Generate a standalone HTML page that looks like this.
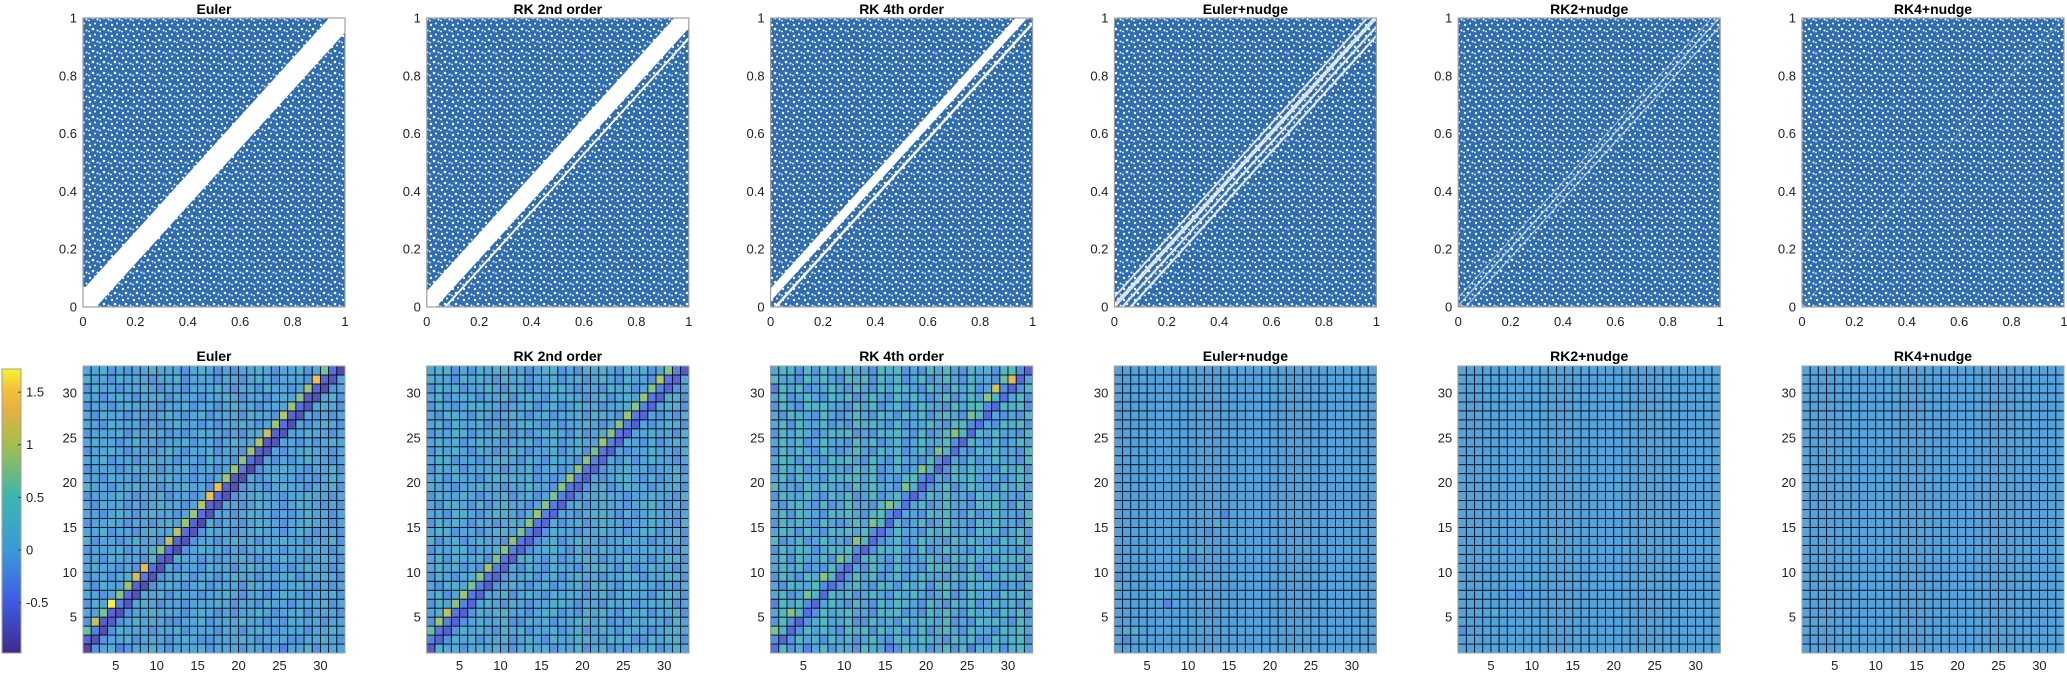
<!DOCTYPE html>
<html><head><meta charset="utf-8">
<style>
html,body{margin:0;padding:0;background:#fff;}
svg{display:block;font-family:"Liberation Sans",sans-serif;}
</style></head>
<body>
<svg id="fig" width="2067" height="676" viewBox="0 0 2067 676" xmlns="http://www.w3.org/2000/svg">
<defs>
<pattern id="speckle" patternUnits="userSpaceOnUse" width="11" height="11">
<rect width="11" height="11" fill="#2f6db5"/>
<circle cx="2" cy="3" r="1.2" fill="#fff"/>
<circle cx="7" cy="1.5" r="1.0" fill="#fff"/>
<circle cx="5" cy="7" r="1.3" fill="#fff"/>
<circle cx="9.5" cy="8.5" r="1.0" fill="#fff"/>
<circle cx="1" cy="9.5" r="0.9" fill="#fff"/>
</pattern>
</defs>
</svg>
<script>
// ---------- data ----------
const titles = ["Euler","RK 2nd order","RK 4th order","Euler+nudge","RK2+nudge","RK4+nudge"];
const scatterTicks = [0,0.2,0.4,0.6,0.8,1];
const scatterTickLabels = ["0","0.2","0.4","0.6","0.8","1"];
// white (empty) diagonal bands in the return maps: [lo, hi] of (y - x)
const bandsEuler = [[-0.05,0.06]];
const bandsRK2 = [[-0.035,0.055],[-0.075,-0.065]];
const bandsRK4 = [[0.02,0.065],[-0.025,-0.012]];
const bandsEulerNudge = [[-0.068,-0.056],[-0.036,-0.024],[-0.006,0.014],[0.03,0.04]];
const bandsRK2Nudge = [[-0.032,-0.025],[0.0,0.008],[0.03,0.035]];
const bandsRK4Nudge = [[0.0,0.004]];
const bandOpacity = [1,1,1,0.8,0.55,0.35];
const heatTicks = [5,10,15,20,25,30];
const cbTicks = [-0.5,0,0.5,1,1.5];
const cbTickLabels = ["-0.5","0","0.5","1","1.5"];
const cMin = -0.98, cMax = 1.72;
// diagonals: main (c,c), first upper (c,c+1), second upper (c,c+2)
const eulerDiag0 = [-0.95,-0.8,-0.85,-0.7,-0.8,-0.75,-0.8,-0.85,-0.8,-0.8,-0.75,-0.85,-0.8,-0.8,-0.9,-0.8,-0.8,-0.75,-0.8,-0.85,-0.9,-0.8,-0.75,-0.8,-0.8,-0.85,-0.8,-0.75,-0.8,-0.85,-0.75,-0.9];
const eulerDiag1 = [-0.6,-0.3,-0.7,-0.6,-0.3,-0.5,-0.6,-0.4,-0.5,-0.6,-0.5,-0.6,-0.5,-0.6,-0.5,-0.6,-0.5,-0.6,-0.7,-0.4,-0.5,-0.6,-0.7,-0.6,-0.5,-0.6,-0.5,-0.7,-0.6,-0.6,-0.5];
const eulerDiag2 = [0.6,1.1,0.7,1.7,0.8,0.9,1.2,1.3,0.3,0.8,1.1,1.1,0.9,0.9,1.0,1.4,1.4,0.9,0.9,0.8,0.9,1.0,1.2,0.9,1.0,0.9,0.8,0.9,1.4,0.7];
const rk2Diag0 = [-0.7,-0.6,-0.65,-0.6,-0.65,-0.6,-0.6,-0.65,-0.6,-0.6,-0.65,-0.6,-0.6,-0.65,-0.6,-0.6,-0.65,-0.6,-0.6,-0.65,-0.6,-0.6,-0.65,-0.6,-0.6,-0.65,-0.6,-0.6,-0.65,-0.6,-0.6,-0.7];
const rk2Diag1 = [-0.3,-0.4,-0.3,-0.4,-0.3,-0.4,-0.3,-0.4,-0.3,-0.4,-0.3,-0.4,-0.3,-0.4,-0.3,-0.4,-0.3,-0.4,-0.3,-0.4,-0.3,-0.4,-0.3,-0.4,-0.3,-0.4,-0.3,-0.4,-0.3,-0.4,-0.3];
const rk2Diag2 = [0.6,0.9,1.1,0.8,0.9,0.7,0.8,0.9,0.7,0.8,0.8,0.7,0.8,0.9,0.8,0.7,0.8,0.9,0.8,0.8,0.7,0.9,0.8,0.8,0.9,0.8,0.9,0.8,1.0,0.8];
const rk4Diag0 = [-0.5,-0.6,-0.55,-0.6,-0.5,-0.6,-0.55,-0.5,-0.6,-0.55,-0.5,-0.6,-0.55,-0.5,-0.6,-0.55,-0.5,-0.6,-0.55,-0.5,-0.6,-0.55,-0.5,-0.6,-0.55,-0.5,-0.6,-0.55,-0.5,-0.6,-0.55,-0.6];
const rk4Diag1 = [-0.2,0.3,-0.2,0.3,-0.2,0.3,-0.2,0.3,-0.2,0.3,-0.2,0.3,-0.2,0.3,-0.2,0.3,-0.2,0.3,-0.2,0.3,-0.2,0.3,-0.2,0.3,-0.2,0.3,-0.2,0.3,-0.2,1.3,-0.2];
const rk4Diag2 = [0.7,0.5,0.8,0.4,0.7,0.5,0.8,0.4,0.7,0.5,0.8,0.4,0.7,0.5,0.8,0.4,0.7,0.5,0.8,0.4,0.7,0.5,0.8,0.4,0.7,0.5,0.8,1.2,0.6,0.5];
// background cell levels, bottom row first; digit d -> value (d-4)*0.17
const eulerBg = [
"43452344543444534443443424453444","24344534443454334445434443344543","54435444344534443443454344434454","34443454443344534445443435444344",
"44534344544434543434454344534443","35443445434434445434435443444534","44345434453444344543443454434453","43544344345434534443544344543434",
"34434544434453443454434445344543","45443434544344354434544343454434","44354443434544343445434454434543","34445344543434544343454434454434",
"53443454434453443454434454434453","44534434544344354434454434543443","34454344345434453443454434454434","44345434544344354434544343454434",
"43544343454434453443454434544343","34445434453443445434454434454434","54434454434454434453443454434453","44354434545443434454434544343454",
"34443454434453443454434454434453","44534434544344354434544343454434","34454344345434453443454434454434","45443454434453443454434544343454",
"34445344543434544343454434454434","44354443434544343445434454434543","43544344345434534443544344543434","34434544434453443454434445344543",
"44345434453444344543443454434453","35443445434434445434435443444534","54435444344534443443454344434454","44534344544434543434454344534443"];
const rk2Bg = [
"45453454543454534453453435453454","35354534453454354455435453354553","54435454354534453453454354434554","35453454453354534455453435454354",
"45534354554434553435454354534453","35453445435434455434435453454534","45345434453454354543453454434553","43554354345434534453554354543435",
"35434554434453453454434455344553","45453434554354354434554353454434","45354453434554353445434454434553","34455344553434554353454434454435",
"53453454434453453454434454434453","45534434554354354434454434553453","35454354345434453453454434454435","44355434554354354434554353454434",
"43554353454434453453454434554353","35445434453453445434454434454435","54434454434454434453453454434453","45354434555453434454434554353454",
"35453454434453453454434454434453","45534434554354354434554353454434","35454354345434453453454434454435","45453454434453453454434554353454",
"34455344553434554353454434454435","45354453434554353445434454434553","43554354345434534453554354543435","35434554434453453454434455344553",
"45345434453454354543453454434553","35453445435434455434435453454534","54435454354534453453454354434554","45534354554434553435454354534453"];
const rk4Bg = [
"46352463543654236453463625463564","26364536453464365465436463364563","64436464365636463463564364436564","36463564463364536465463436564364",
"46536364564436563436464364536463","26463446436436465436436463464536","46346436463464364643463464436463","43654364346436536463564364643436",
"36436564436463463464436465346563","46463436564364364436564363464436","46364463436564363446436464436563","36465346563436564363464436464436",
"63463464436463463464436464436463","46536436564364364436464436563463","36464364346436463463464436464436","46365436564364364436564363464436",
"43564363464436463463464436564363","36446436463463446436464436464436","64436464436464436463463464436463","46364436566463436464436564363464",
"36463464436463463464436464436463","46536436564364364436564363464436","36464364346436463463464436464436","46463464436463463464436564363464",
"36465346563436564363464436464436","46364463436564363446436464436563","43654364346436536463564364643436","36436564436463463464436465346563",
"46346436463464364643463464436463","26463446436436465436436463464536","64436464365636463463564364436564","46536364564436563436464364536463"];
// nudge runs: near-uniform field with a few deviating cells [col,row,value]
const nudgeBase = [-0.05,-0.03,-0.04];
const nudgeEuler = [[2,2,-0.25],[3,3,0.15],[2,3,0.1],[7,6,-0.3],[6,7,0.15],[1,8,0.2],[9,9,0.15],[1,9,-0.2],[10,11,-0.25],[9,12,0.2],[11,12,0.15],[12,14,-0.2],[13,15,0.15],[14,16,-0.3]];
const nudgeRK2 = [[1,3,-0.2],[2,2,0.1],[5,5,0.1],[8,7,-0.2],[12,13,0.1],[20,19,0.08]];
const nudgeRK4 = [[1,2,-0.15],[3,4,0.08],[15,15,0.06],[25,24,0.05]];

// ---------- layout ----------
const svg = document.getElementById('fig');
const NS = 'http://www.w3.org/2000/svg';
const colX = k => 83 + k * 343.8;
const AW = 262, TOP_Y = 18, TOP_H = 289, BOT_Y = 366, BOT_H = 287;
function mk(tag, attrs, parent){ const e=document.createElementNS(NS,tag); for(const k in attrs) e.setAttribute(k,attrs[k]); (parent||svg).appendChild(e); return e; }
function txt(s, attrs, parent){ const e=mk('text',attrs,parent); e.textContent=s; return e; }

const stops=[[0,[62,42,140]],[0.18,[63,91,230]],[0.36,[58,154,216]],[0.55,[59,182,176]],[0.73,[163,189,77]],[0.86,[229,178,64]],[0.93,[246,192,58]],[1,[245,245,40]]];
function parula(v){ let t=(v-cMin)/(cMax-cMin); t=Math.max(0,Math.min(1,t));
  for(let i=1;i<stops.length;i++){ if(t<=stops[i][0]){ const a=stops[i-1],b=stops[i],f=(t-a[0])/(b[0]-a[0]);
    const c=a[1].map((x,j)=>Math.round(x+(b[1][j]-x)*f)); return `rgb(${c[0]},${c[1]},${c[2]})`; } }
  return 'rgb(245,245,40)'; }

// ---------- scatter plots ----------
const allBands=[bandsEuler,bandsRK2,bandsRK4,bandsEulerNudge,bandsRK2Nudge,bandsRK4Nudge];
for(let k=0;k<6;k++){
  const x0=colX(k);
  const sx=v=>x0+v*AW, sy=v=>TOP_Y+TOP_H-v*TOP_H;
  const g=mk('g',{});
  
  
  const cp=mk('clipPath',{id:'cp'+k},g); mk('rect',{x:x0,y:TOP_Y,width:AW,height:TOP_H},cp);
  const pts=mk('rect',{x:x0,y:TOP_Y,width:AW,height:TOP_H,fill:'url(#speckle)'},g);
  
  
  allBands[k].forEach(b=>{
    const p=[[-1,-1+b[0]],[2,2+b[0]],[2,2+b[1]],[-1,-1+b[1]]].map(q=>sx(q[0])+','+sy(q[1])).join(' ');
    const band=mk('polygon',{points:p,fill:'#fff','fill-opacity':bandOpacity[k],'clip-path':`url(#cp${k})`},g);
    
    
  });
  mk('rect',{x:x0,y:TOP_Y,width:AW,height:TOP_H,fill:'none',stroke:'#a0a0a0','stroke-width':1.2},g);
  scatterTicks.forEach((t,i)=>{
    const xl=txt(scatterTickLabels[i],{x:sx(t),y:326,'font-size':13,'text-anchor':'middle',fill:'#222'},g);
    
    
    const yl=txt(scatterTickLabels[i],{x:x0-6,y:sy(t)+4.5,'font-size':13,'text-anchor':'end',fill:'#222'},g);
    
    
  });
  const ti=txt(titles[k],{x:x0+AW/2,y:14,'font-size':14,'font-weight':'bold','text-anchor':'middle',fill:'#000'},g);
  
  
}

// ---------- heatmaps ----------
function matFromBg(bg,d0,d1,d2){ const M=[]; for(let r=0;r<32;r++){M.push([]); for(let c=0;c<32;c++) M[r].push((parseInt(bg[r][c])-4)*0.17);}
  for(let i=0;i<32;i++) M[i][i]=d0[i]; for(let i=0;i<31;i++) M[i+1][i]=d1[i]; for(let i=0;i<30;i++) M[i+2][i]=d2[i]; return M; }
function matNudge(base,dev){ const M=[]; for(let r=0;r<32;r++){M.push(new Array(32).fill(base));} dev.forEach(d=>{M[d[1]-1][d[0]-1]=d[2];}); return M; }
const mats=[matFromBg(eulerBg,eulerDiag0,eulerDiag1,eulerDiag2),matFromBg(rk2Bg,rk2Diag0,rk2Diag1,rk2Diag2),matFromBg(rk4Bg,rk4Diag0,rk4Diag1,rk4Diag2),
  matNudge(nudgeBase[0],nudgeEuler),matNudge(nudgeBase[1],nudgeRK2),matNudge(nudgeBase[2],nudgeRK4)];
for(let k=0;k<6;k++){
  const x0=colX(k), cw=AW/32, ch=BOT_H/32;
  const hx=v=>x0+(v-1)*cw, hy=v=>BOT_Y+BOT_H-(v-1)*ch;
  const g=mk('g',{});
  
  
  const M=mats[k];
  for(let r=0;r<32;r++) for(let c=0;c<32;c++){
    const cell=mk('rect',{x:hx(c+1),y:hy(r+2),width:cw,height:ch,fill:parula(M[r][c]),'fill-opacity':0.88,stroke:'#000','stroke-opacity':0.8,'stroke-width':0.9},g);
    
    
  }
  mk('rect',{x:x0,y:BOT_Y,width:AW,height:BOT_H,fill:'none',stroke:'#a0a0a0','stroke-width':1},g);
  heatTicks.forEach(t=>{
    const xl=txt(String(t),{x:hx(t),y:670,'font-size':13,'text-anchor':'middle',fill:'#222'},g);
    
    
    const yl=txt(String(t),{x:x0-6,y:hy(t)+4.5,'font-size':13,'text-anchor':'end',fill:'#222'},g);
    
    
  });
  const ti=txt(titles[k],{x:x0+AW/2,y:361,'font-size':14,'font-weight':'bold','text-anchor':'middle',fill:'#000'},g);
  
  
}

// ---------- colorbar ----------
const cbX=2, cbW=19, cbTop=369, cbBot=653;
const cy=v=>cbBot-(v-cMin)/(cMax-cMin)*(cbBot-cbTop);
const cb=mk('g',{});


const lg=mk('linearGradient',{id:'cbgrad',x1:0,y1:1,x2:0,y2:0},cb);
stops.forEach(s=>mk('stop',{offset:s[0],'stop-color':`rgb(${s[1].join(',')})`},lg));
mk('rect',{x:cbX,y:cbTop,width:cbW,height:cbBot-cbTop,fill:'url(#cbgrad)',stroke:'#a0a0a0','stroke-width':1},cb);
cbTicks.forEach((t,i)=>{
  mk('line',{x1:cbX+cbW-3,x2:cbX+cbW,y1:cy(t),y2:cy(t),stroke:'#444','stroke-width':1},cb);
  const l=txt(cbTickLabels[i],{x:cbX+cbW+5,y:cy(t)+4.5,'font-size':13,fill:'#222'},cb);
  
  
});
</script>
</body></html>
